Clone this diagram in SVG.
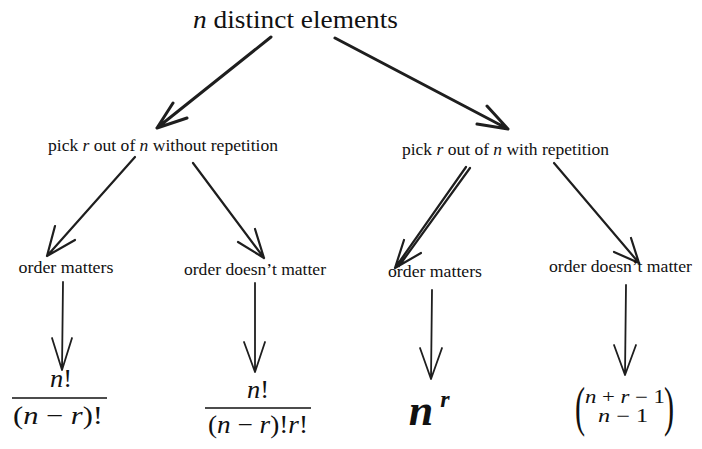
<svg xmlns="http://www.w3.org/2000/svg" width="702" height="449" viewBox="0 0 702 449" font-family="Liberation Serif">
<style>
text{fill:#111;text-anchor:middle}
.t{font-size:26px}
.l{font-size:17px}
.f{font-size:25px}
.b{font-size:18px}
.i{font-style:italic}
.c{fill:none;stroke:#1e1e1e;stroke-linecap:round;stroke-linejoin:round}
.thick{stroke-width:3}
.med{stroke-width:2.2}
.thin{stroke-width:1.8}
.rule{stroke:#111;stroke-width:1.3}
.par{font-size:55px}
</style>
<rect width="702" height="449" fill="#fff"/>
<g id="connectors">
<path class="c thick" d="M271,37 L157,128 M173,103 L157,128 L187,118"/>
<path class="c thick" d="M335,38 L508,129 M487,106 L508,129 L477,124"/>
<path class="c med" d="M135,157 L47,256 M55,226 L47,256 L75,240"/>
<path class="c med" d="M193,163 L264,258 M255,229 L264,258 L238,242"/>
<path class="c med" d="M466,167 L395,268 M470,168 L399,266 M404,240 L395,268 L421,253"/>
<path class="c med" d="M554,163 L639,263 M631,238 L639,263 L614,252"/>
<path class="c thin" d="M63,282 L62,370 M52,338 L62,370 L72,338"/>
<path class="c thin" d="M255,283 L255,372 M244,342 L255,372 L265,342"/>
<path class="c thin" d="M432,290 L431,379 M420,348 L431,379 L442,348"/>
<path class="c thin" d="M626,285 L625,375 M614,345 L625,375 L636,345"/>
</g>
<g id="root"><text class="t" x="295.5" y="28" textLength="205" lengthAdjust="spacingAndGlyphs"><tspan class="i">n</tspan> distinct elements</text></g>
<g id="without"><text class="l" x="163" y="151" textLength="230" lengthAdjust="spacingAndGlyphs">pick <tspan class="i">r</tspan> out of <tspan class="i">n</tspan> without repetition</text></g>
<g id="with"><text class="l" x="505.5" y="155" textLength="207" lengthAdjust="spacingAndGlyphs">pick <tspan class="i">r</tspan> out of <tspan class="i">n</tspan> with repetition</text></g>
<g id="wo-order"><text class="l" x="66" y="273" textLength="95" lengthAdjust="spacingAndGlyphs">order matters</text></g>
<g id="wo-noorder"><text class="l" x="255" y="275" textLength="142" lengthAdjust="spacingAndGlyphs">order doesn’t matter</text></g>
<g id="w-order"><text class="l" x="435" y="277" textLength="94" lengthAdjust="spacingAndGlyphs">order matters</text></g>
<g id="w-noorder"><text class="l" x="620.5" y="272" textLength="143" lengthAdjust="spacingAndGlyphs">order doesn’t matter</text></g>
<g id="perm">
<text class="f" x="61" y="387" textLength="22" lengthAdjust="spacingAndGlyphs"><tspan class="i">n</tspan>!</text>
<line class="rule" x1="12" y1="398" x2="107" y2="398"/>
<text class="f" x="58" y="424" textLength="90" lengthAdjust="spacingAndGlyphs">(<tspan class="i">n</tspan> − <tspan class="i">r</tspan>)!</text>
</g>
<g id="comb">
<text class="f" x="258" y="398" textLength="22" lengthAdjust="spacingAndGlyphs"><tspan class="i">n</tspan>!</text>
<line class="rule" x1="205" y1="408" x2="311" y2="408"/>
<text class="f" x="258" y="433" textLength="100" lengthAdjust="spacingAndGlyphs">(<tspan class="i">n</tspan> − <tspan class="i">r</tspan>)!<tspan class="i">r</tspan>!</text>
</g>
<g id="power">
<text x="421" y="425" style="font-size:44px;font-weight:bold;font-style:italic">n</text>
<text x="445" y="407" style="font-size:24px;font-weight:bold;font-style:italic">r</text>
</g>
<g id="multiset">
<text class="par" x="580" y="425" transform="translate(580 0) scale(0.55 1) translate(-580 0)">(</text>
<text class="par" x="669" y="425" transform="translate(669 0) scale(0.55 1) translate(-669 0)">)</text>
<text class="b" x="625" y="403" textLength="80" lengthAdjust="spacingAndGlyphs"><tspan class="i">n</tspan> + <tspan class="i">r</tspan> − 1</text>
<text class="b" x="623" y="422" textLength="50" lengthAdjust="spacingAndGlyphs"><tspan class="i">n</tspan> − 1</text>
</g>
</svg>
